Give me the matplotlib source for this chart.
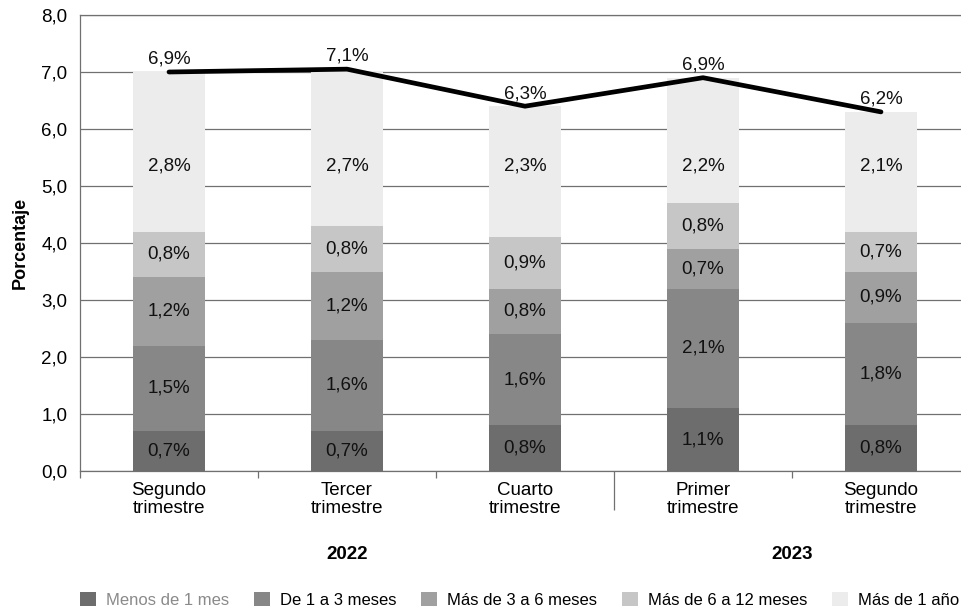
import matplotlib
matplotlib.use("Agg")
import matplotlib.pyplot as plt
import numpy as np
from matplotlib.ticker import FuncFormatter
import matplotlib.transforms as mtransforms

plt.rcParams['font.family'] = ['Liberation Sans', 'DejaVu Sans']

quarters = ["Segundo\ntrimestre", "Tercer\ntrimestre", "Cuarto\ntrimestre",
            "Primer\ntrimestre", "Segundo\ntrimestre"]
years = ["2022", "2023"]
year_centers = [1.0, 3.5]

series_names = ["Menos de 1 mes", "De 1 a 3 meses", "Más de 3 a 6 meses",
                "Más de 6 a 12 meses", "Más de 1 año"]
menos_1 = [0.7, 0.7, 0.8, 1.1, 0.8]
de_1_3 = [1.5, 1.6, 1.6, 2.1, 1.8]
de_3_6 = [1.2, 1.2, 0.8, 0.7, 0.9]
de_6_12 = [0.8, 0.8, 0.9, 0.8, 0.7]
mas_1 = [2.8, 2.7, 2.3, 2.2, 2.1]

total_line = [7.0, 7.05, 6.4, 6.9, 6.3]
total_labels = ["6,9%", "7,1%", "6,3%", "6,9%", "6,2%"]

colors = ["#6d6d6d", "#878787", "#a0a0a0", "#c6c6c6", "#ececec"]
FS = 13.5

fig = plt.figure(figsize=(9.62, 6.11), dpi=100)
ax = fig.add_axes([80 / 962, 140 / 611, 890 / 962, 456 / 611])

x = np.arange(len(quarters))
bottom = np.zeros(len(quarters))
handles = []
all_series = [menos_1, de_1_3, de_3_6, de_6_12, mas_1]
for k, (name, vals, col) in enumerate(zip(series_names, all_series, colors)):
    vals = np.array(vals)
    b = ax.bar(x, vals, 0.4, bottom=bottom, color=col, label=name, zorder=2)
    handles.append(b)
    for xi, bt, v in zip(x, bottom, vals):
        # top segment labels sit a bit low in the original, at about the same height
        ypos = 5.35 if k == len(all_series) - 1 else bt + v / 2
        ax.text(xi, ypos, f"{v:.1f}%".replace(".", ","), ha="center", va="center",
                fontsize=FS, color="#111111", zorder=4)
    bottom += vals

ax.plot(x, total_line, color="black", lw=3.4, solid_capstyle="round", zorder=3)
for xi, yv, lab in zip(x, total_line, total_labels):
    ax.annotate(lab, (xi, yv), xytext=(0, 3), textcoords="offset points",
                ha="center", va="bottom", fontsize=FS, color="#111111", zorder=4)

ax.set_xlim(-0.5, 4.5)
ax.set_ylim(0, 8)
ax.set_yticks(np.arange(0, 8.01, 1))
ax.yaxis.set_major_formatter(FuncFormatter(lambda v, p: f"{v:.1f}".replace(".", ",")))
ax.grid(axis="y", color="#707070", lw=0.9, zorder=0)
ax.set_axisbelow(True)
ax.tick_params(axis="y", length=0, labelsize=FS, pad=9)
ax.set_ylabel("Porcentaje", fontsize=13, fontweight="bold", labelpad=9)

ax.set_xticks(x)
ax.set_xticklabels(quarters, fontsize=FS, linespacing=1.05)
ax.tick_params(axis="x", which="major", length=0, pad=8)
ax.set_xticks(np.arange(-0.5, 4.6, 1), minor=True)
ax.tick_params(axis="x", which="minor", length=5, color="#707070", width=0.9)
for i, t in enumerate(ax.xaxis.get_minor_ticks()):
    if i == 3:
        t.tick1line.set_markersize(28)

for s in ["left", "bottom", "top", "right"]:
    ax.spines[s].set_color("#707070")
    ax.spines[s].set_linewidth(0.9)

trans = mtransforms.blended_transform_factory(ax.transData, ax.transAxes)
for yr, xc in zip(years, year_centers):
    ax.text(xc, -0.184, yr, transform=trans, ha="center", va="center",
            fontsize=FS, fontweight="bold")

leg = fig.legend(handles=handles, loc="center left", bbox_to_anchor=(80 / 962, 11 / 611),
                 ncol=5, frameon=False, fontsize=12, handlelength=0.95, handleheight=0.95,
                 handletextpad=0.6, columnspacing=1.5, borderaxespad=0, borderpad=0)
leg.get_texts()[0].set_color("#8a8a8a")

fig.savefig("out.png", dpi=100)
